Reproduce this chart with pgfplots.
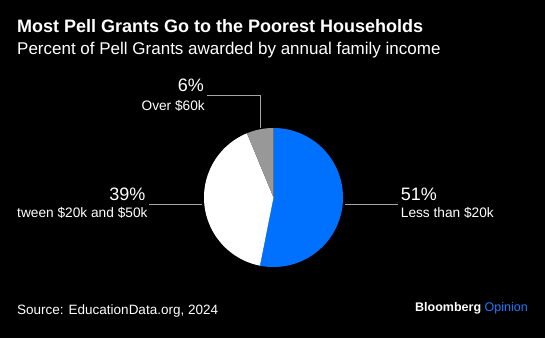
\documentclass[border=0pt]{standalone}
\usepackage{pgfplots}
\pgfplotsset{compat=1.18}
\usepackage{fontspec}
\setmainfont{Liberation Sans}
\definecolor{pieblue}{RGB}{0,112,255}
\definecolor{piegrey}{RGB}{152,152,152}
\definecolor{leader}{RGB}{165,165,165}
\definecolor{bbblue}{RGB}{30,120,255}
\begin{document}
\begin{tikzpicture}[x=1pt,y=1pt]
\useasboundingbox (0,0) rectangle (545,338);
\fill[black] (0,0) rectangle (545,338);
% data: Less than $20k, Between $20k and $50k, Over $60k
\def\vA{51}\def\vB{39}\def\vC{6}
\pgfmathsetmacro\tot{\vA+\vB+\vC}
\pgfmathsetmacro\aA{90-\vA/\tot*360}
\pgfmathsetmacro\aB{\aA-\vB/\tot*360}
\pgfmathsetmacro\aC{\aB-\vC/\tot*360}
\begin{axis}[at={(273.5pt,140.5pt)}, anchor=origin, x=1pt, y=1pt,
  xmin=-75, xmax=75, ymin=-75, ymax=75, hide axis, clip=false]
\addplot[fill=pieblue, draw=none, domain=\aA:90, samples=150, variable=\t]
  ({69.5*cos(\t)},{69.5*sin(\t)}) -- (axis cs:0,0) -- cycle;
\addplot[fill=white, draw=none, domain=\aB:\aA, samples=150, variable=\t]
  ({69.5*cos(\t)},{69.5*sin(\t)}) -- (axis cs:0,0) -- cycle;
\addplot[fill=piegrey, draw=none, domain=\aC:\aB, samples=40, variable=\t]
  ({69.5*cos(\t)},{69.5*sin(\t)}) -- (axis cs:0,0) -- cycle;
\end{axis}
% leader lines
\draw[leader, line width=0.9pt] (345,133.5) -- (398.3,133.5);
\draw[leader, line width=0.9pt] (149,133.5) -- (201.7,133.5);
\draw[leader, line width=0.9pt] (206.7,242.3) -- (260,242.3) -- (260,210.5);
% titles
\node[anchor=base west, inner sep=0, text=white, font=\fontsize{18}{20}\selectfont\bfseries] at (17,305.3) {Most Pell Grants Go to the Poorest Households};
\node[anchor=base west, inner sep=0, text=white, font=\fontsize{17}{20}\selectfont] at (17,283.7) {Percent of Pell Grants awarded by annual family income};
% labels
\node[anchor=base west, inner sep=0, text=white, font=\fontsize{18}{20}\selectfont] at (400.7,137.3) {51\%};
\node[anchor=base west, inner sep=0, text=white, font=\fontsize{13.7}{16}\selectfont] at (400.7,120.3) {Less than \$20k};
\node[anchor=base east, inner sep=0, text=white, font=\fontsize{18}{20}\selectfont] at (145.7,137.3) {39\%};
\begin{scope}
\clip (17.3,0) rectangle (545,338);
\node[anchor=base east, inner sep=0, text=white, font=\fontsize{13.7}{16}\selectfont] at (147.7,120.3) {Between \$20k and \$50k};
\end{scope}
\node[anchor=base east, inner sep=0, text=white, font=\fontsize{18}{20}\selectfont] at (204,246.3) {6\%};
\node[anchor=base east, inner sep=0, text=white, font=\fontsize{13.7}{16}\selectfont] at (205,228) {Over \$60k};
% footer
\node[anchor=base west, inner sep=0, text=white, font=\fontsize{13.5}{16}\selectfont] at (17,24) {Source: EducationData.org, 2024};
\node[anchor=base west, inner sep=0, font=\fontsize{12.5}{15}\selectfont] at (415,26.3) {\textcolor{white}{\bfseries Bloomberg} \textcolor{bbblue}{Opinion}};
\end{tikzpicture}
\end{document}
